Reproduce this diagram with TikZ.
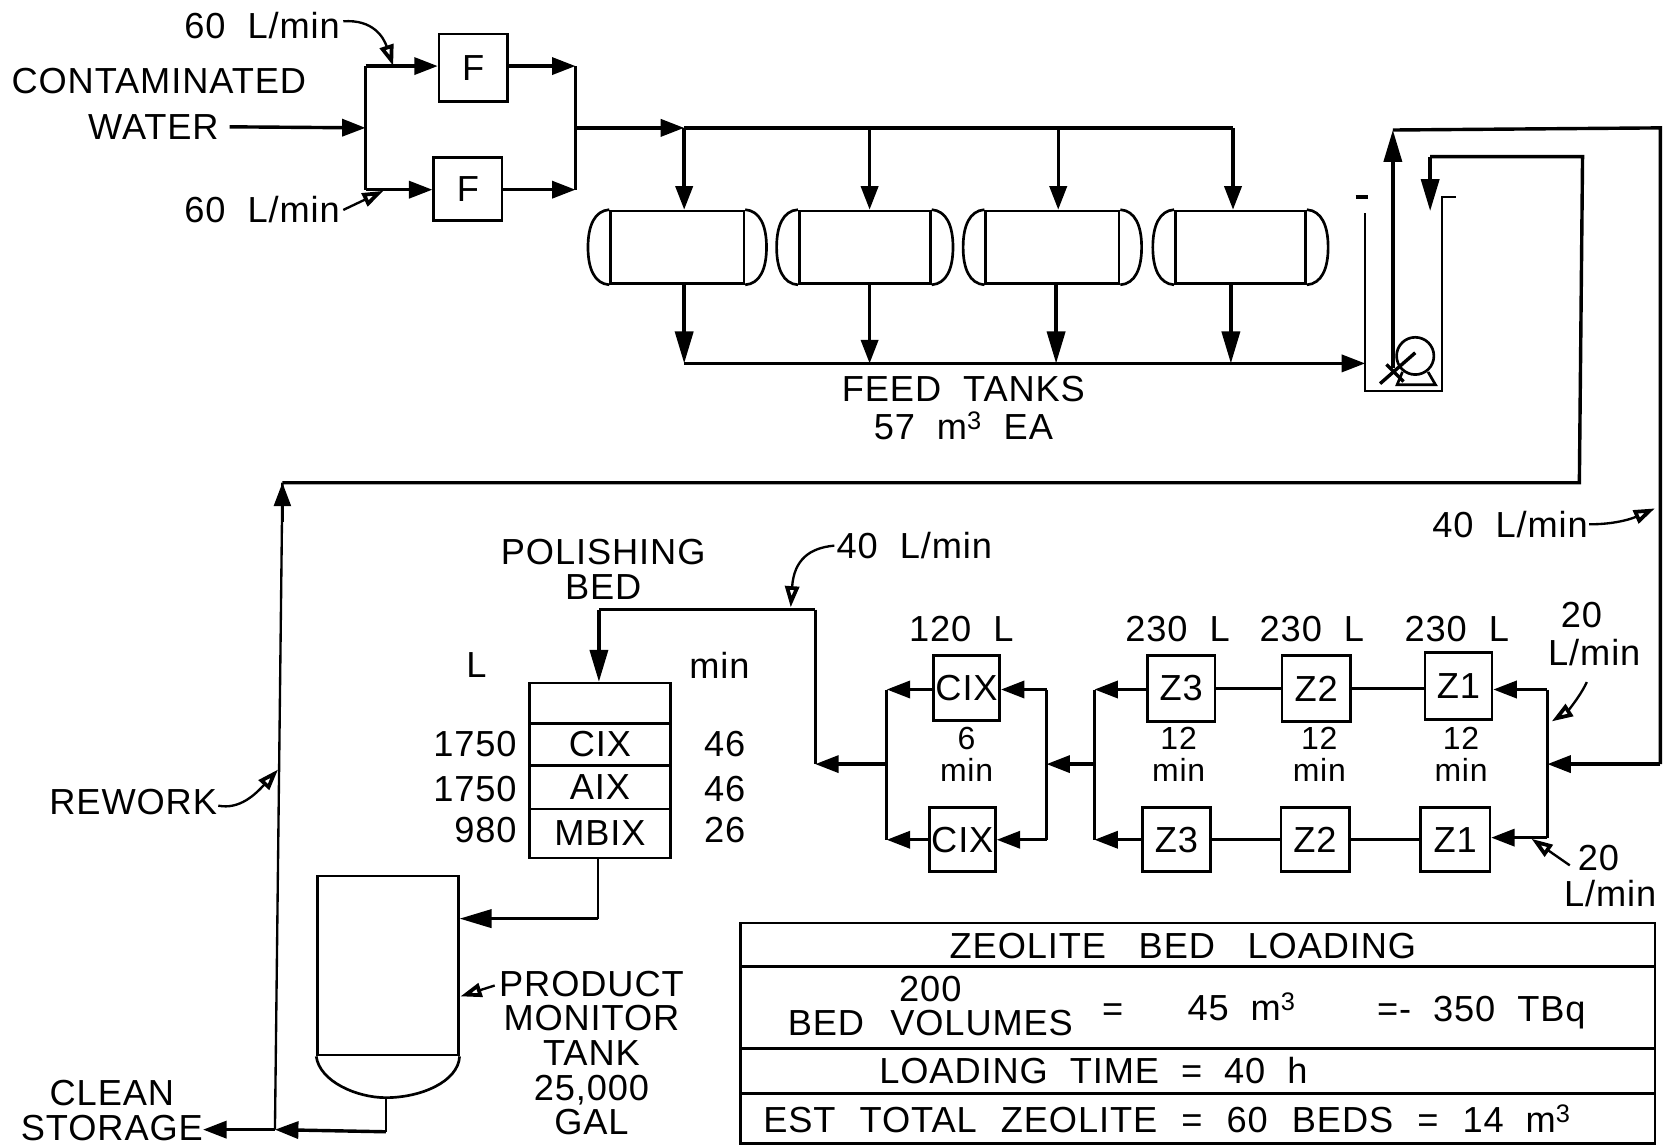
\documentclass[tikz,border=0pt]{standalone}
\usepackage{fontspec}
\setmainfont{Liberation Sans}[WordSpace=2.0,LetterSpace=2.5]
\usetikzlibrary{arrows.meta,calc}
\tikzset{
  x=1pt,y=-1pt,
  txt/.style={font=\fontsize{34}{32.5}\selectfont,inner sep=0pt,align=center,text=black},
  timetxt/.style={font=\fontsize{30}{29.5}\selectfont,inner sep=0pt,align=center,text=black},
  unit/.style={draw,line width=2.5pt,rectangle,inner sep=0pt,font=\fontsize{34}{33}\selectfont,align=center},
  cell/.style={draw,line width=2.5pt,rectangle,inner sep=0pt,minimum width=132pt,font=\fontsize{34}{33}\selectfont},
  pipe/.style={line width=3.2pt,line join=miter},
  thinpipe/.style={line width=2.2pt},
  flow/.style={pipe,-{Triangle[length=22pt,width=16pt]}},
  bigflow/.style={pipe,-{Triangle[length=30pt,width=17pt]}},
  lead/.style={line width=2.2pt,-{Triangle[length=20pt,width=13pt,open,line width=3.5pt,fill=white]}},
  vessel/.style={line width=2.5pt},
}
\begin{document}
\begin{tikzpicture}
\useasboundingbox (0,0) rectangle (1568,1075);
% ---- labels
\node[txt] (l60a) at (246,24) {60 L/min};
\node[txt] (l60b) at (246,197) {60 L/min};
\node[txt] (lcw) at (149,76) {CONTAMINATED};
\node[txt] (lwa) at (144,119) {WATER};
\node[txt] (lfeed) at (904,383) {FEED  TANKS\\[3pt]57 m\textsuperscript{3} EA};
\node[txt] (lrw) at (125,753) {REWORK};
\node[txt] (lpol) at (566,534) {POLISHING\\BED};
\node[txt] (l40a) at (858,512) {40 L/min};
\node[txt] (l40b) at (1417,492) {40 L/min};
\node[txt] (lL) at (447,624) {L};
\node[txt] (lmin) at (675,624) {min};
\node[txt,anchor=east] (v1) at (485,698) {1750};
\node[txt,anchor=east] (v2) at (485,740) {1750};
\node[txt,anchor=east] (v3) at (485,779) {980};
\node[txt] (m1) at (680,698) {46};
\node[txt] (m2) at (680,740) {46};
\node[txt] (m3) at (680,779) {26};
\node[txt] (lprod) at (555,988) {PRODUCT\\MONITOR\\TANK\\25,000\\GAL};
\node[txt] (lclean) at (105,1042) {CLEAN\\STORAGE};
\node[txt] (s120) at (902,590) {120 L};
\node[txt] (s3) at (1105,590) {230 L};
\node[txt] (s2) at (1231,590) {230 L};
\node[txt] (s1) at (1367,590) {230 L};
\node[txt] (l20a) at (1484,577) {20};
\node[txt] (l20d) at (1496,612) {L/min};
\node[txt] (l20b) at (1500,805) {20};
\node[txt] (l20c) at (1511,838) {L/min};
\node[timetxt] (t6) at (907,708) {6\\min};
\node[timetxt] (t3) at (1106,708) {12\\min};
\node[timetxt] (t2) at (1238,708) {12\\min};
\node[timetxt] (t1) at (1371,708) {12\\min};
% ---- filters
\node[unit,minimum width=64pt,minimum height=63pt] (f1) at (444,63.5) {F};
\node[unit,minimum width=64pt,minimum height=59pt] (f2) at (439,177.5) {F};
\coordinate (ml1) at (343,62); \coordinate (ml2) at (343,178); \coordinate (mlc) at (343,120);
\coordinate (mr1) at (540,62); \coordinate (mr2) at (540,178); \coordinate (mrc) at (540,120);
\draw[pipe] (ml1) -- (ml2);
\draw[pipe] (mr1) -- (mr2);
\draw[flow] (lwa.east) ++(10,0) -- (mlc);
\draw[flow] (ml1) -- (f1.west |- ml1);
\draw[flow] (ml2) -- (f2.west |- ml2);
\draw[flow] (f1.east |- mr1) -- (mr1);
\draw[flow] (f2.east |- mr2) -- (mr2);
\draw[lead] (l60a.east) ++(3,-4) .. controls (350,18) and (360,35) .. (369,62);
\draw[lead] (l60b.east) ++(3,0) -- (360,179);
% ---- tanks
\node[vessel,draw,minimum width=125pt,minimum height=68pt,inner sep=0pt] (tk1) at (635.5,232) {};
\node[vessel,draw,minimum width=123pt,minimum height=68pt,inner sep=0pt] (tk2) at (811.5,232) {};
\node[vessel,draw,minimum width=125pt,minimum height=68pt,inner sep=0pt] (tk3) at (987.5,232) {};
\node[vessel,draw,minimum width=122pt,minimum height=68pt,inner sep=0pt] (tk4) at (1164,232) {};
\foreach \t in {tk1,tk2,tk3,tk4}{
  \draw[vessel] (\t.north west) .. controls +(-14,1) and +(0,-20) .. ($(\t.west)+(-20,0)$) .. controls +(0,20) and +(-14,-1) .. (\t.south west);
  \draw[vessel] (\t.north east) .. controls +(14,1) and +(0,-20) .. ($(\t.east)+(20,0)$) .. controls +(0,20) and +(14,-1) .. (\t.south east);
}
\coordinate (d1) at (642,120); \coordinate (d2) at (816,120); \coordinate (d3) at (993,120); \coordinate (d4) at (1157,120);
\coordinate (h0) at (642,341); \coordinate (h2) at (816,341); \coordinate (h3) at (991,341); \coordinate (h4) at (1155,341);
\draw[flow] (mrc) -- (d1);
\draw[pipe] (d1) -- (d4);
\draw[flow] (d1) -- (d1 |- tk1.north);
\draw[flow] (d2) -- (d2 |- tk2.north);
\draw[flow] (d3) -- (d3 |- tk3.north);
\draw[flow] (d4) -- (d4 |- tk4.north);
\draw[bigflow] (h0 |- tk1.south) -- (h0);
\draw[flow] (h2 |- tk2.south) -- (h2);
\draw[bigflow] (h3 |- tk3.south) -- (h3);
\draw[bigflow] (h4 |- tk4.south) -- (h4);
% ---- pump
\coordinate (pbl) at (1281,367); \coordinate (pbr) at (1353,367);
\coordinate (ptl) at (1281,200); \coordinate (ptr) at (1353,185);
\draw[thinpipe] (ptl) -- (pbl) -- (pbr) -- (ptr) -- ++(13,0);
\draw[pipe] (1272,185) -- (1284,185);
\draw[flow] (h0) -- (pbl |- h0);
\node[draw,circle,line width=2.5pt,minimum size=35pt,inner sep=0pt] (pump) at (1328,334) {};
\draw[vessel] (1316,349) -- (1311,361) -- (1347,361) -- (1340,349);
\draw[pipe] (1295,360) -- (1328,331);
\draw[pipe] (1301,342) -- (1317,358);
% ---- loop pipes
\coordinate (top1) at (1307,122); \coordinate (top2) at (1558,120);
\coordinate (ret1) at (1342,147); \coordinate (ret2) at (1485,147); \coordinate (ret3) at (1482,453);
\coordinate (rw1) at (265,453); \coordinate (rw2) at (258,1060);
\coordinate (rin) at (1558,717); \coordinate (pbase) at (1307,345);
\draw[bigflow] (pbase) -- (top1);
\draw[pipe] (top1) -- (top2) -- (rin);
\draw[bigflow] (ret1) -- (1342,198);
\draw[pipe] (ret1) -- (ret2) -- (ret3) -- (rw1);
\draw[thinpipe] (rw2) -- (rw1);
\draw[flow,line width=2.2pt] (265,490) -- (rw1);
\draw[lead] (l40b.east) ++(1,0) .. controls (1520,492) and (1535,485) .. (1553,477);
\draw[lead] (lrw.east) ++(1,3) .. controls (225,760) and (240,745) .. (261,722);
% ---- polishing bed
\node[cell,minimum height=38pt] (p0) at (563,660) {};
\node[cell,minimum height=39pt] (p1) at (563,698.5) {CIX};
\node[cell,minimum height=41pt] (p2) at (563,738.5) {AIX};
\node[cell,minimum height=46pt] (p3) at (563,782) {MBIX};
\coordinate (pa) at (765,572); \coordinate (pb) at (562,572); \coordinate (pc) at (765,717);
\draw[pipe] (pa) -- (pb);
\draw[bigflow] (pb) -- (pb |- p0.north);
\draw[pipe] (pa) -- (pc);
\draw[lead] (l40a.west) ++(-2,0) .. controls (760,514) and (745,525) .. (742,570);
% ---- product tank
\node[vessel,draw,minimum width=132pt,minimum height=168pt,inner sep=0pt] (ptank) at (364,906) {};
\coordinate (pbot) at (362,1030);
\draw[vessel] (ptank.south west) .. controls (300,1015) and (335,1030) .. (pbot) .. controls (395,1030) and (430,1015) .. (ptank.south east);
\coordinate (pmid) at (561,862);
\draw[thinpipe] (p3.south -| pmid) -- (pmid);
\draw[bigflow] (pmid) -- (ptank.east |- pmid);
\draw[lead] (lprod.north west) ++(-4,14) -- (432,935);
\coordinate (pout) at (362,1062);
\draw[thinpipe] (pbot) -- (pout);
\draw[flow] (pout) -- (rw2);
\draw[flow] (rw2) -- (lclean.east |- rw2);
% ---- CIX and zeolite beds
\node[unit,minimum width=62pt,minimum height=61pt] (c1) at (907,645.5) {CIX};
\node[unit,minimum width=62pt,minimum height=60pt] (c2) at (903,788) {CIX};
\node[unit,minimum width=63pt,minimum height=62pt] (za3) at (1108.5,646) {Z3};
\node[unit,minimum width=64pt,minimum height=62pt] (za2) at (1235,646) {Z2};
\node[unit,minimum width=63pt,minimum height=63pt] (za1) at (1368.5,643.5) {Z1};
\node[unit,minimum width=64pt,minimum height=60pt] (zb3) at (1104,788) {Z3};
\node[unit,minimum width=64pt,minimum height=60pt] (zb2) at (1234,788) {Z2};
\node[unit,minimum width=65pt,minimum height=60pt] (zb1) at (1365.5,788) {Z1};
\coordinate (a1) at (832,647); \coordinate (a2) at (832,788); \coordinate (ac) at (832,717);
\coordinate (b1) at (982,647); \coordinate (b2) at (982,788); \coordinate (bc) at (982,717);
\coordinate (e1) at (1027,647); \coordinate (e2) at (1027,788); \coordinate (ec) at (1027,717);
\coordinate (g1) at (1452,647); \coordinate (g2) at (1452,786); \coordinate (gc) at (1452,717);
\draw[pipe] (a1) -- (a2);
\draw[pipe] (b1) -- (b2);
\draw[pipe] (e1) -- (e2);
\draw[pipe] (g1) -- (g2);
\draw[flow] (ac) -- (pc);
\draw[flow] (c1.west |- a1) -- (a1);
\draw[flow] (c2.west |- a2) -- (a2);
\draw[flow] (b1) -- (c1.east |- b1);
\draw[flow] (b2) -- (c2.east |- b2);
\draw[flow] (ec) -- (bc);
\draw[flow] (za3.west |- e1) -- (e1);
\draw[flow] (zb3.west |- e2) -- (e2);
\draw[pipe] (za1.west |- za3) -- (za2.east |- za3);
\draw[pipe] (za2.west |- za3) -- (za3.east);
\draw[pipe] (zb1.west) -- (zb2.east);
\draw[pipe] (zb2.west) -- (zb3.east);
\draw[flow] (g1) -- (za1.east |- g1);
\draw[flow] (g2) -- (zb1.east |- g2);
\draw[flow] (rin) -- (gc);
\draw[lead] (1489,640) .. controls (1482,655) and (1470,668) .. (1456,677);
\draw[lead] (1473,812) -- (1437,787);
% ---- table
\node[cell,minimum width=858pt,minimum height=41pt] (r1) at (1124,886.5) {};
\node[cell,minimum width=858pt,minimum height=77pt] (r2) at (1124,945.5) {};
\node[cell,minimum width=858pt,minimum height=42pt] (r3) at (1124,1005) {};
\node[cell,minimum width=858pt,minimum height=47pt] (r4) at (1124,1049.5) {};
\node[txt] (r1t) at (1110,888) {ZEOLITE\hspace{10pt} BED\hspace{10pt} LOADING};
\node[txt] (r2a) at (873,944) {200\\BED\hspace{4pt} VOLUMES};
\node[txt] (r2b) at (1044,950) {=};
\node[txt] (r2c) at (1165,945) {45 m\textsuperscript{3}};
\node[txt] (r2d) at (1390,950) {=- 350 TBq};
\node[txt] (r3t) at (1026,1005) {LOADING  TIME  =  40 h};
\node[txt] (r4t) at (1095,1050) {EST\hspace{2pt} TOTAL\hspace{2pt} ZEOLITE\hspace{2pt} =\hspace{2pt} 60\hspace{2pt} BEDS\hspace{2pt} =\hspace{2pt} 14 m\textsuperscript{3}};
\end{tikzpicture}
\end{document}
